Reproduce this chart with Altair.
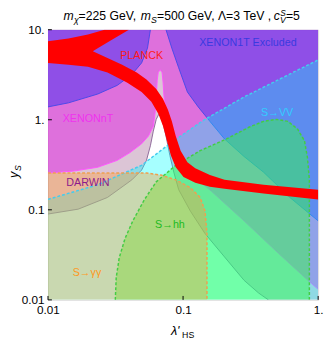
import altair as alt
import pandas as pd

# ---------------- data (x = lambda'_HS, y = y_S) ----------------
x_tick_values = [0.01, 0.1, 1]
x_tick_labels = ["0.01", "0.1", "1."]
y_tick_values = [0.01, 0.1, 1, 10]
y_tick_labels = ["0.01", "0.1", "1.", "10."]

# XENON1T exclusion boundaries (region excluded outside the funnel)
x1t_left_x = [0.01, 0.01418, 0.02334, 0.03256, 0.04176, 0.04932, 0.05451, 0.05729]
x1t_left_y = [1.39, 1.541, 1.93, 2.41, 3.177, 4.28, 6.23, 10]
x1t_right_x = [0.07474, 0.0826, 0.09279, 0.1077, 0.1294, 0.1580, 0.2027, 0.2827, 0.3942, 0.6173, 1.0]
x1t_right_y = [10, 6.23, 3.78, 2.03, 1.39, 0.96, 0.612, 0.391, 0.262, 0.1372, 0.0754]

# XENONnT funnel
xnt_left_x = [0.01, 0.0154, 0.02334, 0.03256, 0.04041, 0.04932, 0.05542, 0.06021, 0.06225, 0.06329, 0.06435, 0.06544, 0.06765]
xnt_left_y = [0.256, 0.269, 0.297, 0.354, 0.4318, 0.541, 0.660, 0.847, 1.23, 1.79, 2.74, 3.34, 3.60]
xnt_right_x = [0.06993, 0.07112, 0.07229, 0.07601, 0.08122, 0.09592, 0.1231, 0.1633, 0.2827, 0.5058, 0.9051, 1.0]
xnt_right_y = [3.34, 2.60, 1.79, 1.087, 0.660, 0.354, 0.226, 0.1593, 0.0754, 0.0331, 0.0149, 0.01315]

# DARWIN funnel
dar_left_x = [0.01, 0.01674, 0.02757, 0.04176, 0.04932, 0.05360, 0.05729, 0.06021, 0.06329, 0.06653]
dar_left_y = [0.0898, 0.1017, 0.1372, 0.215, 0.276, 0.354, 0.514, 0.748, 1.01, 1.171]
dar_right_x = [0.06993, 0.07474, 0.07987, 0.08538, 0.09279, 0.1133, 0.1454, 0.2027, 0.2827, 0.3627, 0.4283]
dar_right_y = [1.01, 0.660, 0.401, 0.262, 0.1674, 0.0967, 0.0545, 0.02997, 0.0165, 0.0119, 0.01]

# S -> VV boundary (excluded below)
vv_x = [0.01, 0.02334, 0.04932, 0.08122, 0.1454, 0.2827, 0.5497, 1.0]
vv_y = [0.1305, 0.1897, 0.312, 0.5544, 1.01, 1.79, 2.95, 4.62]

# S -> hh boundary (excluded inside)
hh_x = [0.0315, 0.0320, 0.03366, 0.03719, 0.04247, 0.05186, 0.06329, 0.08826, 0.1338, 0.2096,
        0.3072, 0.3942, 0.4892, 0.5973, 0.7054, 0.7924, 0.8329, 0.861, 0.861]
hh_y = [0.01, 0.0177, 0.0292, 0.0481, 0.0754, 0.1305, 0.2044, 0.312, 0.454, 0.612,
        0.826, 0.96, 1.01, 0.96, 0.786, 0.583, 0.381, 0.215, 0.01]

# S -> gamma gamma boundary (excluded below-left)
gg_x = [0.01, 0.0536, 0.06878, 0.08826, 0.1133, 0.1338, 0.1454, 0.1503, 0.1503]
gg_y = [0.256, 0.256, 0.243, 0.215, 0.176, 0.1372, 0.0967, 0.0545, 0.01]

# PLANCK relic-density band: upper outline (left->right), lower outline (right->left)
planck_up_x = [0.01, 0.01418, 0.01977, 0.02623, 0.03974, 0.02996, 0.02334, 0.02148, 0.02757, 0.03538,
               0.0454, 0.0536, 0.06329, 0.07112, 0.07727, 0.0826, 0.08826, 0.09592, 0.1077, 0.1231,
               0.158, 0.2027, 0.3942, 1.0]
planck_up_y = [7.42, 7.99, 8.83, 10, 10, 7.80, 6.23, 5.78, 4.85, 4.08,
               3.34, 2.80, 2.19, 1.70, 1.294, 0.96, 0.660, 0.454, 0.3365, 0.290,
               0.243, 0.215, 0.1897, 0.1674]
planck_lo_x = [1.0, 0.3942, 0.2027, 0.158, 0.1231, 0.1008, 0.08826, 0.08122, 0.07601, 0.07112,
               0.06544, 0.05824, 0.04932, 0.03844, 0.02757, 0.01977, 0.01418, 0.01]
planck_lo_y = [0.1305, 0.1516, 0.1716, 0.1804, 0.1994, 0.2315, 0.297, 0.401, 0.583, 0.847,
               1.171, 1.58, 2.03, 2.60, 3.34, 3.88, 4.08, 4.28]

XMIN, XMAX, YMIN, YMAX = 0.01, 1.0, 0.01, 10.0
W = H = 277
FONT = "Liberation Sans"


def df(xs, ys):
    return pd.DataFrame({"x": xs, "y": ys, "i": list(range(len(xs)))})


def label_expr(vals, labs):
    e = "''"
    for v, l in zip(vals, labs):
        e = f"(abs(datum.value - {v}) < {v * 1e-3}) ? '{l}' : ({e})"
    return e


xscale = alt.Scale(type="log", domain=[XMIN, XMAX], nice=False)
yscale = alt.Scale(type="log", domain=[YMIN, YMAX], nice=False)
xaxis = alt.Axis(values=x_tick_values, labelExpr=label_expr(x_tick_values, x_tick_labels), title=None,
                 ticks=False, domain=False, grid=False, labelFont=FONT, labelFontSize=12,
                 labelColor="black", labelPadding=5, labelFlush=False, labelOverlap=False)
yaxis = alt.Axis(values=y_tick_values, labelExpr=label_expr(y_tick_values, y_tick_labels), title=None,
                 ticks=False, domain=False, grid=False, labelFont=FONT, labelFontSize=12,
                 labelColor="black", labelPadding=4, labelFlush=False, labelOverlap=False)
X = alt.X("x:Q", scale=xscale, axis=xaxis)
Y = alt.Y("y:Q", scale=yscale, axis=yaxis)


def fill(data, color, op):
    return alt.Chart(data).mark_line(fill=color, fillOpacity=op, strokeOpacity=0, interpolate="linear",
                                     clip=True).encode(x=X, y=Y, order=alt.Order("i:Q"))


def line(data, color, width=1.0, dash=None):
    kw = dict(color=color, strokeWidth=width, interpolate="linear", clip=True)
    if dash:
        kw["strokeDash"] = dash
    return alt.Chart(data).mark_line(**kw).encode(x=X, y=Y, order=alt.Order("i:Q"))


rev = lambda a: list(reversed(a))

# polygons
darwin_poly = df([XMIN, XMAX, XMAX] + rev(dar_right_x) + rev(dar_left_x),
                 [YMAX, YMAX, YMIN] + rev(dar_right_y) + rev(dar_left_y))
xnt_poly = df([XMIN, XMAX] + rev(xnt_right_x) + rev(xnt_left_x),
              [YMAX, YMAX] + rev(xnt_right_y) + rev(xnt_left_y))
x1t_poly_l = df([XMIN] + x1t_left_x, [YMAX] + x1t_left_y)
x1t_poly_r = df(x1t_right_x + [XMAX], x1t_right_y + [YMAX])
vv_poly = df(vv_x + [XMAX, XMIN], vv_y + [YMIN, YMIN])
hh_poly = df(hh_x, hh_y)
gg_poly = df(gg_x + [XMIN], gg_y + [YMIN])
planck_poly = df(planck_up_x + planck_lo_x, planck_up_y + planck_lo_y)

layers = [
    fill(darwin_poly, "#9a5a8a", 0.35),
    line(df(dar_left_x + dar_right_x, dar_left_y + dar_right_y), "#8e6a9a", 1.0),
    fill(xnt_poly, "#e040e0", 0.64),
    line(df(xnt_left_x + xnt_right_x, xnt_left_y + xnt_right_y), "#ff55ff", 1.0),
    fill(x1t_poly_l, "#6a40ec", 0.68),
    fill(x1t_poly_r, "#6a40ec", 0.68),
    line(df(x1t_left_x, x1t_left_y), "#4a4ae8", 1.0),
    line(df(x1t_right_x, x1t_right_y), "#4a4ae8", 1.0),
    fill(vv_poly, "#00ffff", 0.35),
    fill(hh_poly, "#30ff40", 0.45),
    fill(gg_poly, "#ff9d39", 0.4),
    line(df(vv_x, vv_y), "#44ccee", 1.5, [3, 2]),
    line(df(hh_x, hh_y), "#44cc44", 1.5, [3, 2]),
    line(df(gg_x, gg_y), "#eea050", 1.5, [3, 2]),
    fill(planck_poly, "#ff0000", 1.0),
]

# inward frame ticks
xt = pd.DataFrame({"x": x_tick_values})
yt = pd.DataFrame({"y": y_tick_values})
layers.append(alt.Chart(xt).mark_rule(color="black", strokeWidth=1).encode(
    x=alt.X("x:Q", scale=xscale, axis=xaxis), y=alt.value(H), y2=alt.value(H - 4)))
layers.append(alt.Chart(yt).mark_rule(color="black", strokeWidth=1).encode(
    y=alt.Y("y:Q", scale=yscale, axis=yaxis), x=alt.value(0), x2=alt.value(4)))


def txt(t, x, y, size=11, color="black", style="normal", align="center", baseline="middle", angle=0):
    return alt.Chart(pd.DataFrame({"t": [t]})).mark_text(
        font=FONT, fontSize=size, color=color, fontStyle=style, align=align, baseline=baseline,
        angle=angle).encode(text="t:N", x=alt.value(x), y=alt.value(y))


# region labels
layers += [
    txt("PLANCK", 96, 27, 11, "#ff1a1a"),
    txt("XENON1T Excluded", 205, 14, 11, "#3a3ae0"),
    txt("XENONnT", 41, 92, 11, "#ee33ee"),
    txt("DARWIN", 41, 157, 11, "#8c1a8c"),
    txt("S\u2192VV", 235, 85, 11, "#33ccff"),
    txt("S\u2192hh", 125, 200, 11, "#22bb22"),
    txt("S\u2192\u03b3\u03b3", 40, 250, 11, "#ff9922"),
]

# title (pieces for sub/superscripts)
tb = -10
title_pieces = [
    ("m", 16, tb, 12.5, "italic"),
    ("\u03c7", 26.6, tb + 3, 9, "italic"),
    ("=225 GeV,", 31.4, tb, 12.5, "normal"),
    ("m", 95.1, tb, 12.5, "italic"),
    ("S", 105.6, tb + 3, 9, "italic"),
    ("=500 GeV, \u039b=3 TeV ,", 111.8, tb, 12.5, "normal"),
    ("c", 231.4, tb, 12.5, "italic"),
    ("V", 237.8, tb + 3, 9, "italic"),
    ("S", 238.2, tb - 4.5, 8.5, "italic"),
    ("=5", 244, tb, 12.5, "normal"),
]
for t, x, y, s, st in title_pieces:
    layers.append(txt(t, x, y, s, "black", st, "left", "alphabetic"))

# axis titles
layers.append(txt("\u03bb'", 126, 313, 13, "black", "italic", "left", "alphabetic"))
layers.append(txt("HS", 137.5, 316, 9, "black", "normal", "left", "alphabetic"))
layers.append(txt("y", -31, 152, 13, "black", "italic", "left", "alphabetic", 270))
layers.append(txt("S", -28, 145, 9, "black", "italic", "left", "alphabetic", 270))

chart = alt.layer(*layers).properties(
    width=W, height=H,
    padding={"left": 41, "top": 18, "right": 6, "bottom": 41},
    autosize=alt.AutoSizeParams(type="none"),
).configure_view(stroke="black", strokeWidth=1.5).configure(background="white")

chart.save("out.html", embed_options={"renderer": "svg", "actions": False})
